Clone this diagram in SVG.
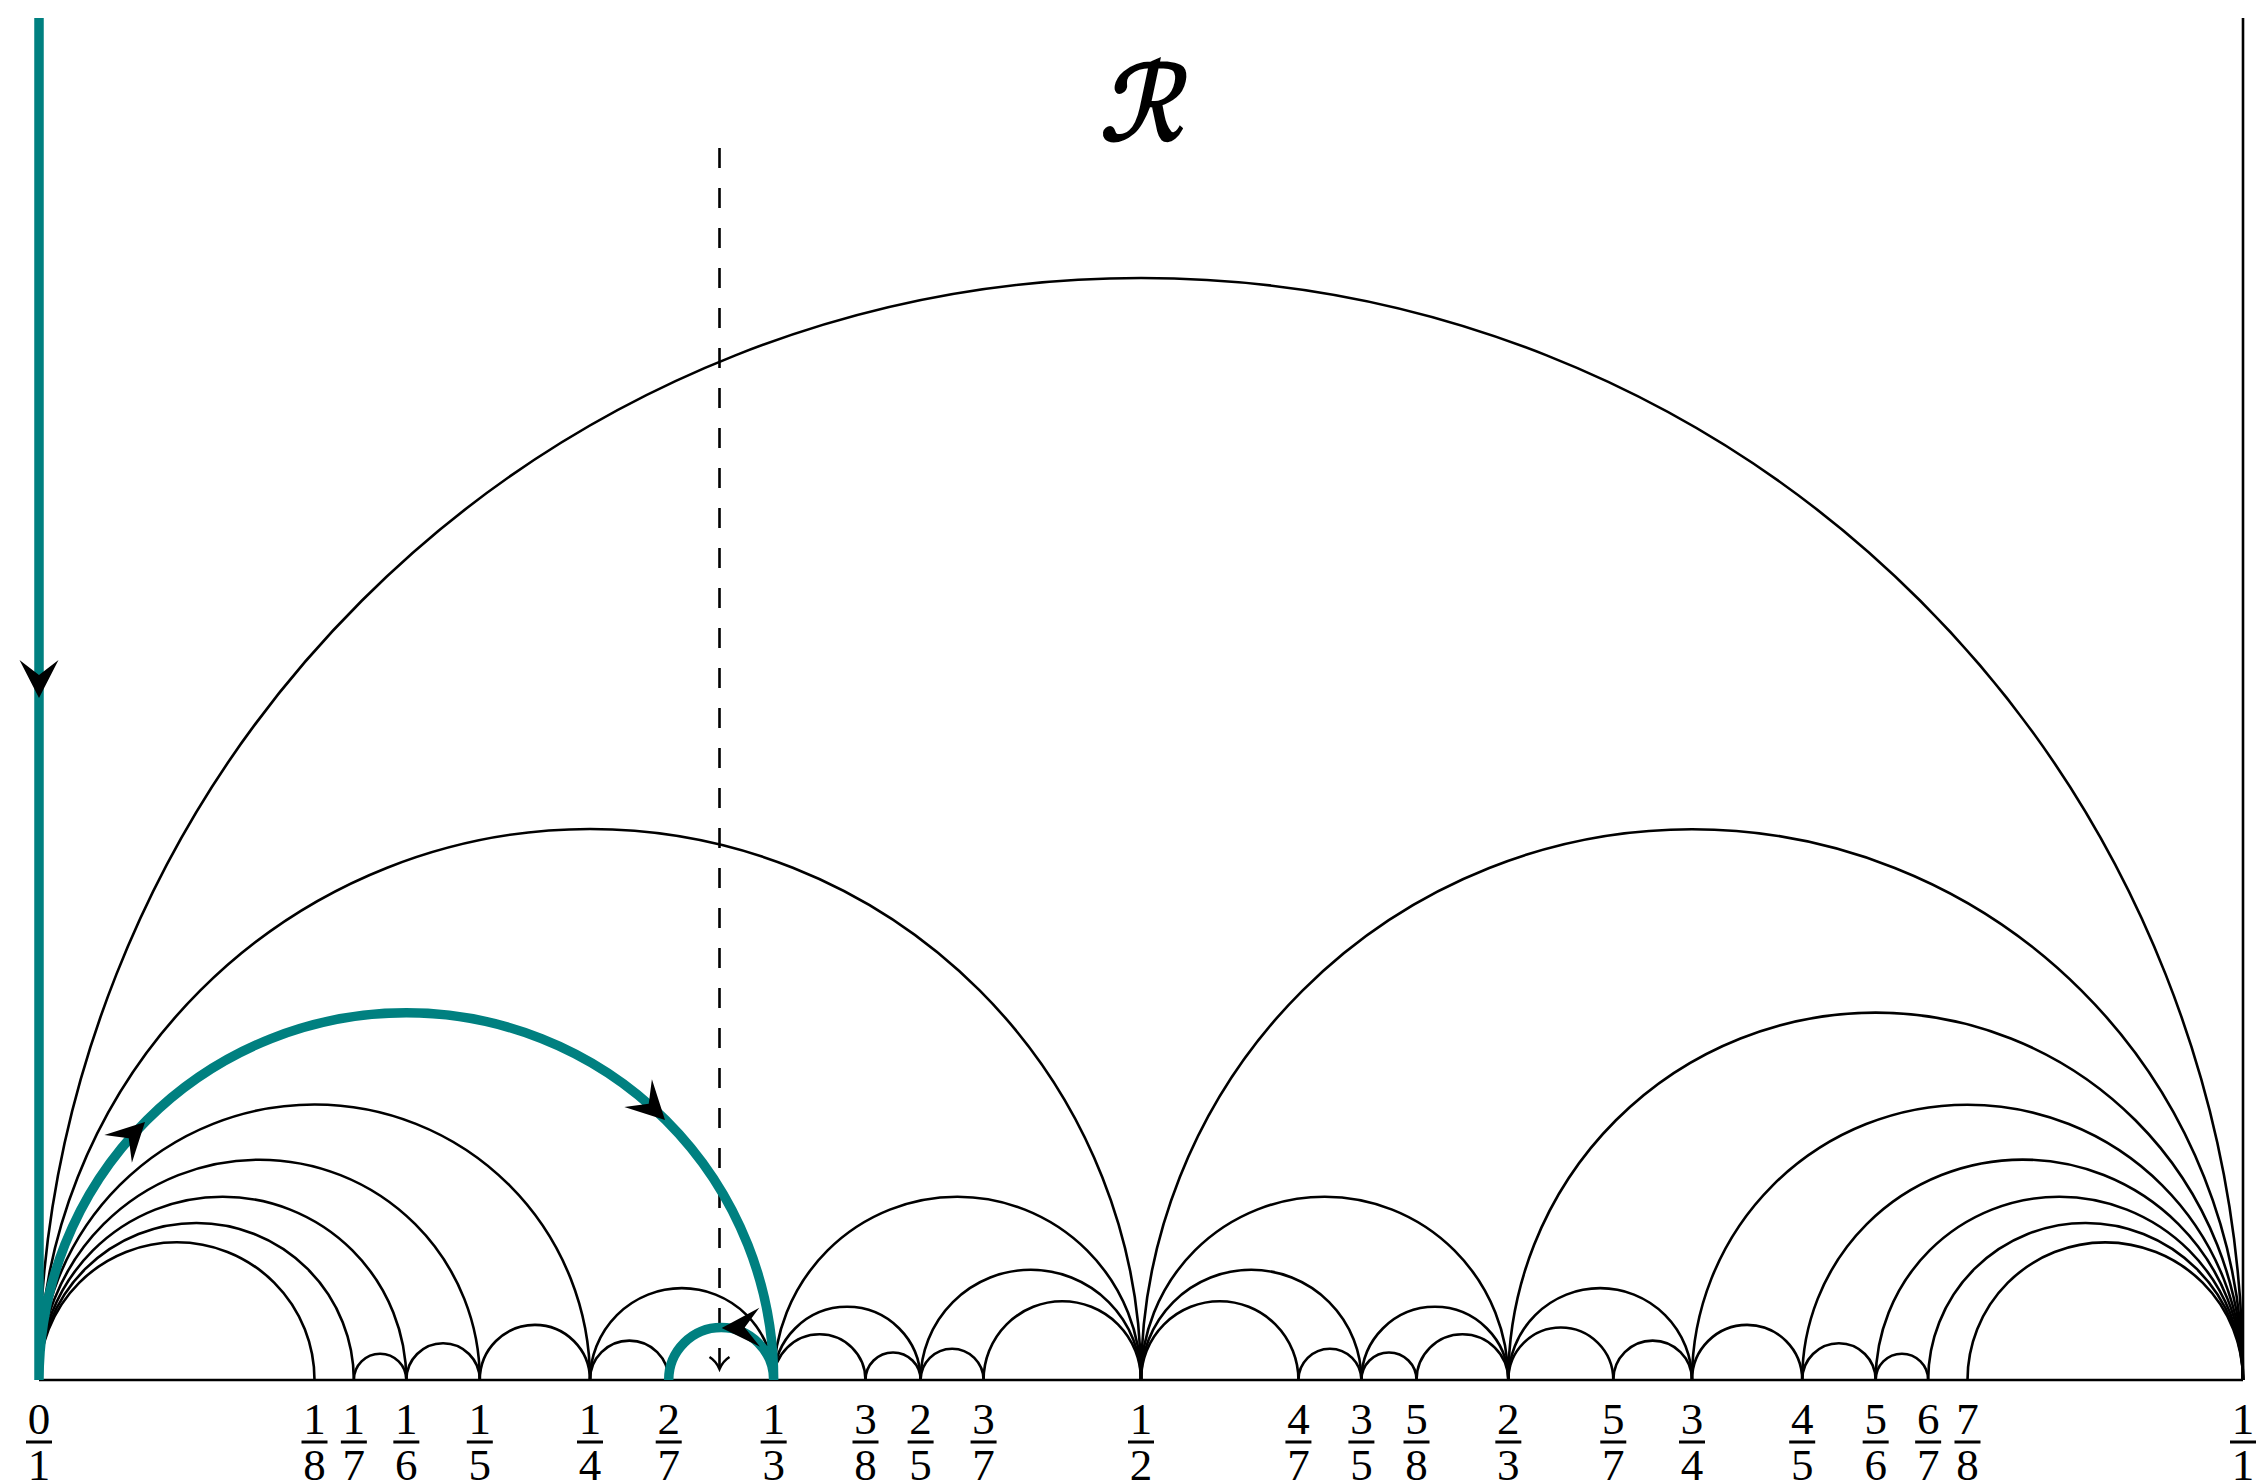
<svg xmlns="http://www.w3.org/2000/svg" xmlns:xlink="http://www.w3.org/1999/xlink" width="2258" height="1484" viewBox="0 0 2258 1484">
<style>
.arc{fill:none;stroke:#000;stroke-width:2.6}
.teal{fill:none;stroke:#008080;stroke-width:9.5}
.num{font-family:"Liberation Serif","DejaVu Serif",serif;font-size:45px;text-anchor:middle;fill:#000}
.bar{fill:#000}
.title{font-family:"DejaVu Serif","DejaVu Sans",serif;font-size:104px;text-anchor:middle;fill:#000;stroke:#000;stroke-width:3}
</style>
<defs>
<path id="stealth" d="M0,0 L-38,-19.5 L-23,0 L-38,19.5 Z" fill="#000"/>
</defs>
<rect width="2258" height="1484" fill="#fff"/>
<text id="title" class="title" x="1141" y="140" transform="translate(1141,140) skewX(-12) translate(-1141,-140)">ℛ</text>
<g id="connectors">
<line class="arc" x1="39" y1="1380" x2="2243" y2="1380"/>
<line class="arc" x1="2243" y1="18" x2="2243" y2="1380"/>
<path class="arc" d="M39,1380 A1102,1102 0 0 1 2243,1380"/>
<path class="arc" d="M39,1380 A551,551 0 0 1 1141,1380"/>
<path class="arc" d="M1141,1380 A551,551 0 0 1 2243,1380"/>
<path class="arc" d="M39,1380 A275.5,275.5 0 0 1 590,1380"/>
<path class="arc" d="M39,1380 A220.4,220.4 0 0 1 479.8,1380"/>
<path class="arc" d="M39,1380 A183.667,183.667 0 0 1 406.333,1380"/>
<path class="arc" d="M39,1380 A157.429,157.429 0 0 1 353.857,1380"/>
<path class="arc" d="M39,1380 A137.75,137.75 0 0 1 314.5,1380"/>
<path class="arc" d="M353.857,1380 A26.238,26.238 0 0 1 406.333,1380"/>
<path class="arc" d="M406.333,1380 A36.733,36.733 0 0 1 479.8,1380"/>
<path class="arc" d="M479.8,1380 A55.1,55.1 0 0 1 590,1380"/>
<path class="arc" d="M590,1380 A39.357,39.357 0 0 1 668.714,1380"/>
<path class="arc" d="M590,1380 A91.833,91.833 0 0 1 773.667,1380"/>
<path class="arc" d="M773.667,1380 A183.667,183.667 0 0 1 1141,1380"/>
<path class="arc" d="M773.667,1380 A45.917,45.917 0 0 1 865.5,1380"/>
<path class="arc" d="M865.5,1380 A27.55,27.55 0 0 1 920.6,1380"/>
<path class="arc" d="M773.667,1380 A73.467,73.467 0 0 1 920.6,1380"/>
<path class="arc" d="M920.6,1380 A31.486,31.486 0 0 1 983.571,1380"/>
<path class="arc" d="M920.6,1380 A110.2,110.2 0 0 1 1141,1380"/>
<path class="arc" d="M983.571,1380 A78.714,78.714 0 0 1 1141,1380"/>
<path class="arc" d="M1141,1380 A78.714,78.714 0 0 1 1298.429,1380"/>
<path class="arc" d="M1298.429,1380 A31.486,31.486 0 0 1 1361.4,1380"/>
<path class="arc" d="M1141,1380 A110.2,110.2 0 0 1 1361.4,1380"/>
<path class="arc" d="M1361.4,1380 A27.55,27.55 0 0 1 1416.5,1380"/>
<path class="arc" d="M1416.5,1380 A45.917,45.917 0 0 1 1508.333,1380"/>
<path class="arc" d="M1361.4,1380 A73.467,73.467 0 0 1 1508.333,1380"/>
<path class="arc" d="M1141,1380 A183.667,183.667 0 0 1 1508.333,1380"/>
<path class="arc" d="M1508.333,1380 A52.476,52.476 0 0 1 1613.286,1380"/>
<path class="arc" d="M1613.286,1380 A39.357,39.357 0 0 1 1692,1380"/>
<path class="arc" d="M1508.333,1380 A91.833,91.833 0 0 1 1692,1380"/>
<path class="arc" d="M1508.333,1380 A367.333,367.333 0 0 1 2243,1380"/>
<path class="arc" d="M1692,1380 A55.1,55.1 0 0 1 1802.2,1380"/>
<path class="arc" d="M1692,1380 A275.5,275.5 0 0 1 2243,1380"/>
<path class="arc" d="M1802.2,1380 A36.733,36.733 0 0 1 1875.667,1380"/>
<path class="arc" d="M1802.2,1380 A220.4,220.4 0 0 1 2243,1380"/>
<path class="arc" d="M1875.667,1380 A26.238,26.238 0 0 1 1928.143,1380"/>
<path class="arc" d="M1875.667,1380 A183.667,183.667 0 0 1 2243,1380"/>
<path class="arc" d="M1928.143,1380 A157.429,157.429 0 0 1 2243,1380"/>
<path class="arc" d="M1967.5,1380 A137.75,137.75 0 0 1 2243,1380"/>
<line class="arc" x1="719.5" y1="148" x2="719.5" y2="1368" stroke-dasharray="20 20"/>
<path class="arc" d="M709.5,1357 Q716,1361 719.5,1369 Q723,1361 729.5,1357"/>
<path class="teal" d="M39,18 L39,1380 A367.333,367.333 0 0 1 773.667,1380 A52.476,52.476 0 0 0 668.714,1380"/>
<use xlink:href="#stealth" transform="translate(39,698) rotate(90)"/>
<use xlink:href="#stealth" transform="translate(145,1122) rotate(-45)"/>
<use xlink:href="#stealth" transform="translate(665,1120) rotate(45)"/>
<use xlink:href="#stealth" transform="translate(721.7,1328) rotate(179)"/>
</g>
<g id="label-0-1"><text class="num" x="39" y="1434">0</text><rect class="bar" x="26" y="1440.5" width="26" height="3"/><text class="num" x="39" y="1480">1</text></g>
<g id="label-1-8"><text class="num" x="314.5" y="1434">1</text><rect class="bar" x="301.5" y="1440.5" width="26" height="3"/><text class="num" x="314.5" y="1480">8</text></g>
<g id="label-1-7"><text class="num" x="353.857" y="1434">1</text><rect class="bar" x="340.857" y="1440.5" width="26" height="3"/><text class="num" x="353.857" y="1480">7</text></g>
<g id="label-1-6"><text class="num" x="406.333" y="1434">1</text><rect class="bar" x="393.333" y="1440.5" width="26" height="3"/><text class="num" x="406.333" y="1480">6</text></g>
<g id="label-1-5"><text class="num" x="479.8" y="1434">1</text><rect class="bar" x="466.8" y="1440.5" width="26" height="3"/><text class="num" x="479.8" y="1480">5</text></g>
<g id="label-1-4"><text class="num" x="590" y="1434">1</text><rect class="bar" x="577" y="1440.5" width="26" height="3"/><text class="num" x="590" y="1480">4</text></g>
<g id="label-2-7"><text class="num" x="668.714" y="1434">2</text><rect class="bar" x="655.714" y="1440.5" width="26" height="3"/><text class="num" x="668.714" y="1480">7</text></g>
<g id="label-1-3"><text class="num" x="773.667" y="1434">1</text><rect class="bar" x="760.667" y="1440.5" width="26" height="3"/><text class="num" x="773.667" y="1480">3</text></g>
<g id="label-3-8"><text class="num" x="865.5" y="1434">3</text><rect class="bar" x="852.5" y="1440.5" width="26" height="3"/><text class="num" x="865.5" y="1480">8</text></g>
<g id="label-2-5"><text class="num" x="920.6" y="1434">2</text><rect class="bar" x="907.6" y="1440.5" width="26" height="3"/><text class="num" x="920.6" y="1480">5</text></g>
<g id="label-3-7"><text class="num" x="983.571" y="1434">3</text><rect class="bar" x="970.571" y="1440.5" width="26" height="3"/><text class="num" x="983.571" y="1480">7</text></g>
<g id="label-1-2"><text class="num" x="1141" y="1434">1</text><rect class="bar" x="1128" y="1440.5" width="26" height="3"/><text class="num" x="1141" y="1480">2</text></g>
<g id="label-4-7"><text class="num" x="1298.429" y="1434">4</text><rect class="bar" x="1285.429" y="1440.5" width="26" height="3"/><text class="num" x="1298.429" y="1480">7</text></g>
<g id="label-3-5"><text class="num" x="1361.4" y="1434">3</text><rect class="bar" x="1348.4" y="1440.5" width="26" height="3"/><text class="num" x="1361.4" y="1480">5</text></g>
<g id="label-5-8"><text class="num" x="1416.5" y="1434">5</text><rect class="bar" x="1403.5" y="1440.5" width="26" height="3"/><text class="num" x="1416.5" y="1480">8</text></g>
<g id="label-2-3"><text class="num" x="1508.333" y="1434">2</text><rect class="bar" x="1495.333" y="1440.5" width="26" height="3"/><text class="num" x="1508.333" y="1480">3</text></g>
<g id="label-5-7"><text class="num" x="1613.286" y="1434">5</text><rect class="bar" x="1600.286" y="1440.5" width="26" height="3"/><text class="num" x="1613.286" y="1480">7</text></g>
<g id="label-3-4"><text class="num" x="1692" y="1434">3</text><rect class="bar" x="1679" y="1440.5" width="26" height="3"/><text class="num" x="1692" y="1480">4</text></g>
<g id="label-4-5"><text class="num" x="1802.2" y="1434">4</text><rect class="bar" x="1789.2" y="1440.5" width="26" height="3"/><text class="num" x="1802.2" y="1480">5</text></g>
<g id="label-5-6"><text class="num" x="1875.667" y="1434">5</text><rect class="bar" x="1862.667" y="1440.5" width="26" height="3"/><text class="num" x="1875.667" y="1480">6</text></g>
<g id="label-6-7"><text class="num" x="1928.143" y="1434">6</text><rect class="bar" x="1915.143" y="1440.5" width="26" height="3"/><text class="num" x="1928.143" y="1480">7</text></g>
<g id="label-7-8"><text class="num" x="1967.5" y="1434">7</text><rect class="bar" x="1954.5" y="1440.5" width="26" height="3"/><text class="num" x="1967.5" y="1480">8</text></g>
<g id="label-1-1"><text class="num" x="2243" y="1434">1</text><rect class="bar" x="2230" y="1440.5" width="26" height="3"/><text class="num" x="2243" y="1480">1</text></g>
</svg>
